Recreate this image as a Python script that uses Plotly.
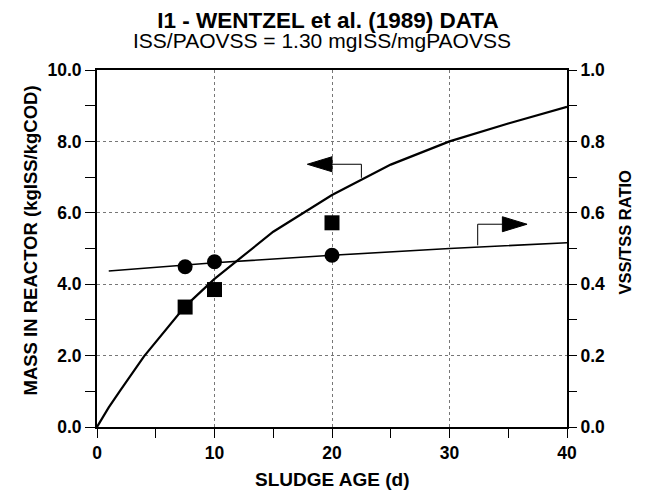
import plotly.graph_objects as go

# ---- data ----
sludge_age_curve = [0, 1, 2, 4, 7.5, 10, 15, 20, 25, 30, 35, 40]
mass_curve = [0, 0.55, 1.03, 1.98, 3.38, 4.15, 5.47, 6.5, 7.35, 8.0, 8.5, 8.97]

ratio_age_curve = [1, 10, 20, 30, 40]
ratio_curve = [0.437, 0.46, 0.481, 0.50, 0.516]

data_age = [7.5, 10, 20]
mass_data = [3.36, 3.85, 5.72]
ratio_data = [0.449, 0.463, 0.481]

x_ticks = [0, 10, 20, 30, 40]
y1_ticks = [0, 2, 4, 6, 8, 10]
y2_ticks = [0, 0.2, 0.4, 0.6, 0.8, 1.0]

TITLE = "I1 - WENTZEL et al. (1989) DATA"
SUBTITLE = "ISS/PAOVSS = 1.30 mgISS/mgPAOVSS"

FONT = "Liberation Sans, Arial, sans-serif"

fig = go.Figure()

fig.add_trace(go.Scatter(x=sludge_age_curve, y=mass_curve, mode="lines",
                         line=dict(color="black", width=2.2), yaxis="y"))
fig.add_trace(go.Scatter(x=ratio_age_curve, y=ratio_curve, mode="lines",
                         line=dict(color="black", width=1.6), yaxis="y2"))
fig.add_trace(go.Scatter(x=data_age, y=mass_data, mode="markers",
                         marker=dict(symbol="square", size=15, color="black"), yaxis="y"))
fig.add_trace(go.Scatter(x=data_age, y=ratio_data, mode="markers",
                         marker=dict(symbol="circle", size=15, color="black"), yaxis="y2"))

# arrow indicators (which axis each curve belongs to)
shapes = [
    dict(type="path", xref="x", yref="y", path="M 20 7.15 L 17.9 7.36 L 20 7.57 Z",
         fillcolor="black", line=dict(color="black", width=1)),
    dict(type="path", xref="x", yref="y", path="M 20 7.36 L 22.5 7.36 L 22.5 6.98",
         line=dict(color="black", width=1)),
    dict(type="path", xref="x", yref="y2", path="M 34.5 0.547 L 36.6 0.568 L 34.5 0.589 Z",
         fillcolor="black", line=dict(color="black", width=1)),
    dict(type="path", xref="x", yref="y2", path="M 32.4 0.509 L 32.4 0.568 L 34.5 0.568",
         line=dict(color="black", width=1)),
]

grid = dict(showgrid=True, gridcolor="#777777", griddash="dot", gridwidth=1)
tickfont = dict(family=FONT, size=17.5, color="black", weight="bold")

# page body has an 8px margin, so the figure is 8px smaller and shifted
fig.update_layout(
    width=640, height=482,
    margin=dict(l=89, r=81, t=62, b=63),
    paper_bgcolor="white", plot_bgcolor="white",
    showlegend=False,
    shapes=shapes,
    title=dict(text="<b>" + TITLE + "</b>", x=0.5, xanchor="center",
               yref="container", y=0.992, yanchor="top",
               font=dict(family=FONT, size=22.5, color="black")),
    xaxis=dict(range=[0, 40], tickvals=x_ticks, ticktext=[str(v) for v in x_ticks],
               ticks="outside", ticklen=9, tickwidth=1, tickcolor="black",
               minor=dict(dtick=5, ticks="outside", ticklen=9, tickcolor="black", showgrid=False),
               showline=True, linecolor="black", linewidth=2, mirror=True,
               tickfont=tickfont, zeroline=False, **grid),
    yaxis=dict(range=[0, 10], tickvals=y1_ticks, ticktext=["%.1f" % v for v in y1_ticks],
               ticks="outside", ticklen=10, tickwidth=1, tickcolor="black",
               minor=dict(dtick=1, ticks="outside", ticklen=10, tickcolor="black", showgrid=False),
               showline=True, linecolor="black", linewidth=2,
               tickfont=tickfont, zeroline=False, **grid),
    yaxis2=dict(range=[0, 1], overlaying="y", side="right",
                tickvals=y2_ticks, ticktext=["%.1f" % v for v in y2_ticks],
                ticks="outside", ticklen=8, tickwidth=1, tickcolor="black",
                minor=dict(dtick=0.1, ticks="outside", ticklen=8, tickcolor="black", showgrid=False),
                showline=True, linecolor="black", linewidth=2, showgrid=False,
                tickfont=tickfont, zeroline=False),
    annotations=[
        dict(text=SUBTITLE, xref="paper", yref="paper", x=0.478, y=1, yshift=43,
             xanchor="center", yanchor="top", showarrow=False,
             font=dict(family=FONT, size=21, color="black")),
        dict(text="<b>MASS IN REACTOR (kgISS/kgCOD)</b>", xref="paper", yref="paper",
             x=0, y=0.5, xshift=-67, yshift=8, textangle=-90, showarrow=False,
             xanchor="center", yanchor="middle",
             font=dict(family=FONT, size=18.5, color="black")),
        dict(text="<b>VSS/TSS RATIO</b>", xref="paper", yref="paper",
             x=1, y=0.5, xshift=57, yshift=16, textangle=-90, showarrow=False,
             xanchor="center", yanchor="middle",
             font=dict(family=FONT, size=16.5, color="black")),
        dict(text="<b>SLUDGE AGE (d)</b>", xref="paper", yref="paper",
             x=0.5, y=0, yshift=-52, showarrow=False,
             xanchor="center", yanchor="middle",
             font=dict(family=FONT, size=19, color="black")),
    ],
)

fig.write_html("out.html")
